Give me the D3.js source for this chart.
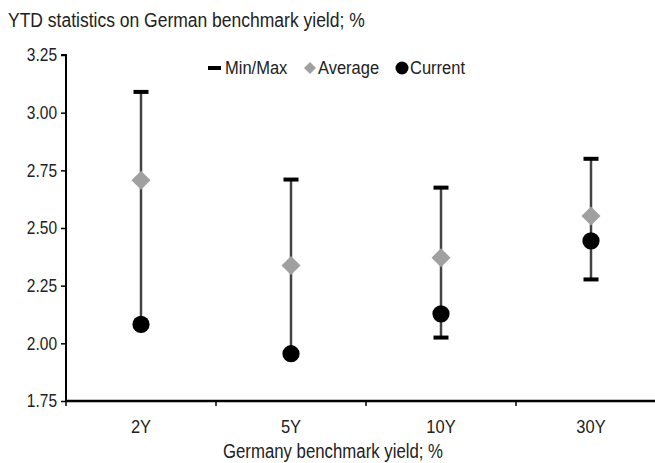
<!DOCTYPE html>
<html><head><meta charset="utf-8">
<script src="https://cdn.jsdelivr.net/npm/d3@7"></script>
<style>
body{margin:0;background:#fff;}
text{font-family:"Liberation Sans",Arial,sans-serif;fill:#222;}
</style></head>
<body><svg id="c" width="655" height="463"></svg>
<script>
const categories = ["2Y","5Y","10Y","30Y"];
const maxVals = [3.09, 2.71, 2.675, 2.80];
const minVals = [2.08, 1.955, 2.025, 2.277];
const avgVals = [2.707, 2.337, 2.371, 2.552];
const curVals = [2.082, 1.955, 2.128, 2.444];
const yTicks = [1.75, 2.00, 2.25, 2.50, 2.75, 3.00, 3.25];
const title = "YTD statistics on German benchmark yield; %";
const xTitle = "Germany benchmark yield; %";
const legendLabels = ["Min/Max","Average","Current"];

const SX = 0.87;
// narrow-tall text like the reference: scale horizontally
function narrow(sel, widthSize) {
  sel.each(function() {
    const t = d3.select(this);
    const x0 = +t.attr("x") || 0;
    t.attr("x", x0 / SX).attr("font-size", widthSize / SX).attr("transform", `scale(${SX},1)`);
  });
}

const svg = d3.select("#c");
const x = d3.scaleBand().domain(categories).range([66, 666]);
const y = d3.scaleLinear().domain([1.75, 3.25]).range([401, 55]);

svg.append("text").attr("x", 8).attr("y", 27).text(title).call(narrow, 17.5);

// axes
const yAxis = svg.append("g").attr("transform", "translate(66,0)")
  .call(d3.axisLeft(y).tickValues(yTicks).tickFormat(d3.format(".2f")).tickSize(5).tickPadding(4));
yAxis.select(".domain").attr("stroke", "#000").attr("stroke-width", 2).attr("d", "M-5,55H0V401");
yAxis.selectAll(".tick line").attr("stroke", "#000").attr("stroke-width", 1.5);
yAxis.selectAll(".tick text").attr("fill", "#222").call(narrow, 15.5);

const xAxis = svg.append("g").attr("transform", "translate(0,401)")
  .call(d3.axisBottom(x).tickSize(0));
xAxis.select(".domain").attr("stroke", "#000").attr("stroke-width", 2.5).attr("d", "M66,0H666");
xAxis.selectAll(".tick text").attr("fill", "#222").attr("y", 32).attr("dy", 0).call(narrow, 16.5);
xAxis.selectAll(".bt").data(categories).enter().append("line").attr("class","bt")
  .attr("x1", d => x(d)).attr("x2", d => x(d)).attr("y1", 0).attr("y2", 5)
  .attr("stroke", "#000").attr("stroke-width", 1.5);

svg.append("text").attr("x", 333).attr("y", 458).attr("text-anchor", "middle")
  .text(xTitle).call(narrow, 16.8);

const cx = d => x(d) + x.bandwidth() / 2;
const g = svg.append("g");
categories.forEach((c, i) => {
  g.append("line").attr("x1", cx(c)).attr("x2", cx(c))
    .attr("y1", y(maxVals[i])).attr("y2", y(minVals[i]))
    .attr("stroke", "#444").attr("stroke-width", 2.5);
  [maxVals[i], minVals[i]].forEach(v => {
    g.append("rect").attr("x", cx(c) - 7.5).attr("y", y(v) - 2).attr("width", 15).attr("height", 4).attr("fill", "#000");
  });
  g.append("path").attr("transform", `translate(${cx(c)},${y(avgVals[i])})`)
    .attr("d", "M0,-9.5L9.5,0L0,9.5L-9.5,0Z").attr("fill", "#a0a0a0");
  g.append("circle").attr("cx", cx(c)).attr("cy", y(curVals[i])).attr("r", 8.6).attr("fill", "#000");
});

// legend
const ly = 68;
const lg = svg.append("g");
lg.append("rect").attr("x", 208).attr("y", ly - 2).attr("width", 13).attr("height", 4).attr("fill", "#000");
lg.append("text").attr("x", 225).attr("y", ly + 6.5).text(legendLabels[0]).call(narrow, 16.5);
lg.append("path").attr("transform", `translate(310,${ly})`).attr("d", "M0,-6L6,0L0,6L-6,0Z").attr("fill", "#a0a0a0");
lg.append("text").attr("x", 318).attr("y", ly + 6.5).text(legendLabels[1]).call(narrow, 16.5);
lg.append("circle").attr("cx", 402).attr("cy", ly).attr("r", 6.5).attr("fill", "#000");
lg.append("text").attr("x", 410).attr("y", ly + 6.5).text(legendLabels[2]).call(narrow, 16.5);
</script></body></html>
